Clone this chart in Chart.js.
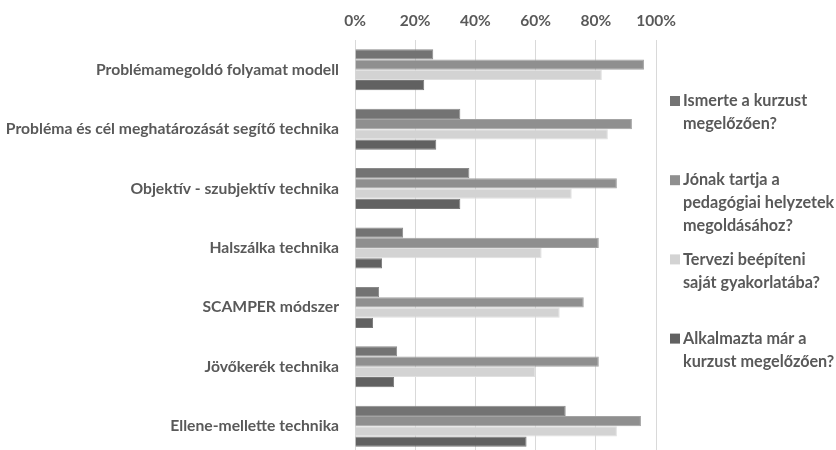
<!DOCTYPE html>
<html>
<head>
<meta charset="utf-8">
<script src="https://cdn.jsdelivr.net/npm/chart.js@4.4.1/dist/chart.umd.min.js"></script>
<style>
  html, body { margin: 0; padding: 0; overflow: hidden; background: #fff; }
  #wrap { position: relative; width: 836px; height: 460px; }
</style>
</head>
<body>
<div id="wrap"><canvas id="c"></canvas></div>
<script>
const categories = [
  "Problémamegoldó folyamat modell",
  "Probléma és cél meghatározását segítő technika",
  "Objektív - szubjektív technika",
  "Halszálka technika",
  "SCAMPER módszer",
  "Jövőkerék technika",
  "Ellene-mellette technika"
];
const seriesNames = [
  ["Ismerte a kurzust", "megelőzően?"],
  ["Jónak tartja a", "pedagógiai helyzetek", "megoldásához?"],
  ["Tervezi beépíteni", "saját gyakorlatába?"],
  ["Alkalmazta már a", "kurzust megelőzően?"]
];
const ismerte     = [26, 35, 38, 16, 8, 14, 70];
const jonakTartja = [96, 92, 87, 81, 76, 81, 95];
const tervezi     = [82, 84, 72, 62, 68, 60, 87];
const alkalmazta  = [23, 27, 35, 9, 6, 13, 57];
const xTicks = [0, 20, 40, 60, 80, 100];

const colors = ["#737373", "#8f8f8f", "#d3d3d3", "#616161"];
const borders = ["#8a8a8a", "#a3a3a3", "#e0e0e0", "#787878"];
const seriesValues = [ismerte, jonakTartja, tervezi, alkalmazta];

const FONT = "Lato";
const TXT = "#595959";

const legendPlugin = {
  id: "wrapLegend",
  afterDraw(chart) {
    const ctx = chart.ctx;
    ctx.save();
    ctx.font = "bold 16.2px " + FONT;
    ctx.textBaseline = "middle";
    ctx.textAlign = "left";
    const x0 = 670, y0 = 101, gap = 79.2, lh = 23;
    chart.data.datasets.forEach((ds, i) => {
      const y = y0 + gap * i;
      ctx.fillStyle = ds.backgroundColor;
      ctx.fillRect(x0, y - 5, 10, 10);
      ctx.fillStyle = TXT;
      ds.legendLines.forEach((line, j) => {
        ctx.fillText(line, x0 + 13, y + j * lh);
      });
    });
    ctx.restore();
  }
};

new Chart(document.getElementById("c"), {
  type: "bar",
  data: {
    labels: categories,
    datasets: seriesValues.map((vals, i) => ({
      label: seriesNames[i].join(" "),
      legendLines: seriesNames[i],
      data: vals,
      backgroundColor: colors[i],
      borderColor: borders[i],
      borderWidth: 1,
      categoryPercentage: 0.69,
      barPercentage: 1.0
    }))
  },
  options: {
    indexAxis: "y",
    responsive: true,
    maintainAspectRatio: false,
    animation: false,
    devicePixelRatio: 1,
    layout: { padding: { top: 0, right: 180, bottom: 4, left: 0 } },
    plugins: { legend: { display: false }, tooltip: { enabled: false } },
    scales: {
      x: {
        position: "top",
        min: 0, max: 100,
        afterBuildTicks(scale) { scale.ticks = xTicks.map(v => ({ value: v })); },
        afterFit(scale) { scale.height = 40; },
        ticks: {
          callback: v => v + "%",
          color: TXT,
          font: { family: FONT, size: 15.5, weight: "bold" },
          padding: 10,
          maxRotation: 0
        },
        grid: { color: "#d9d9d9", lineWidth: 1, drawTicks: false },
        border: { display: false }
      },
      y: {
        afterFit(scale) {
          scale.width = 355;
          scale.paddingTop = 0;
          scale.paddingBottom = 0;
        },
        ticks: {
          color: TXT,
          font: { family: FONT, size: 15.7, weight: "bold" },
          padding: 16
        },
        grid: { display: false, drawTicks: false },
        border: { display: false }
      }
    }
  },
  plugins: [legendPlugin]
});
</script>
</body>
</html>
